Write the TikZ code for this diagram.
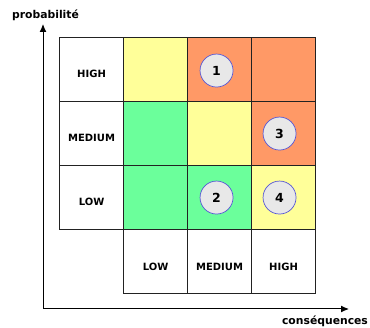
\documentclass[tikz,border=0pt]{standalone}
\usepackage{fontspec}
\setmainfont{DejaVu Sans}
\usetikzlibrary{arrows.meta}
\definecolor{cyel}{HTML}{FFFF99}
\definecolor{cgrn}{HTML}{6BFF9B}
\definecolor{corg}{HTML}{FF9966}
\definecolor{cring}{HTML}{5555D5}
\definecolor{cdisc}{HTML}{E8E8E8}
\definecolor{cline}{HTML}{222222}
\tikzset{
  cell/.style={draw=cline, line width=1.1pt, minimum size=64pt, inner sep=0pt, anchor=north west},
  lbl/.style={font=\bfseries\fontsize{10}{11}\selectfont, inner sep=0pt},
  risk/.style={circle, draw=cring, line width=0.7pt, fill=cdisc, minimum size=33pt, inner sep=0pt, font=\bfseries\fontsize{12.5}{13}\selectfont},
  axis/.style={line width=1pt, -{Latex[length=8pt,width=7pt]}},
  axlbl/.style={font=\bfseries\fontsize{10.8}{12}\selectfont, inner sep=0pt}
}
\begin{document}
\begin{tikzpicture}[x=1pt,y=-1pt]
\useasboundingbox (0,0) rectangle (370,328);
% coloured cells
\node[cell, fill=cyel] (c11) at (123,37) {};
\node[cell, fill=corg] (c12) at (187,37) {};
\node[cell, fill=corg] (c13) at (251,37) {};
\node[cell, fill=cgrn] (c21) at (123,101) {};
\node[cell, fill=cyel] (c22) at (187,101) {};
\node[cell, fill=corg] (c23) at (251,101) {};
\node[cell, fill=cgrn] (c31) at (123,165) {};
\node[cell, fill=cgrn] (c32) at (187,165) {};
\node[cell, fill=cyel] (c33) at (251,165) {};
% row headers
\node[cell, fill=white] (rh) at (59,37) {};
\node[cell, fill=white] (rm) at (59,101) {};
\node[cell, fill=white] (rl) at (59,165) {};
% column headers
\node[cell, fill=white] (cl) at (123,229) {};
\node[cell, fill=white] (cm) at (187,229) {};
\node[cell, fill=white] (ch) at (251,229) {};
% header texts
\node[lbl] (trh) at ([yshift=-4pt]rh.center) {HIGH};
\node[lbl] (trm) at ([yshift=-4pt]rm.center) {MEDIUM};
\node[lbl] (trl) at ([yshift=-4pt]rl.center) {LOW};
\node[lbl] (tcl) at ([yshift=-5pt]cl.center) {LOW};
\node[lbl] (tcm) at ([yshift=-5pt]cm.center) {MEDIUM};
\node[lbl] (tch) at ([yshift=-5pt]ch.center) {HIGH};
% risks
\node[risk] (r1) at ([xshift=-3pt,yshift=-1pt]c12.center) {1};
\node[risk] (r3) at ([xshift=-4pt]c23.center) {3};
\node[risk] (r2) at ([xshift=-3pt]c32.center) {2};
\node[risk] (r4) at ([xshift=-4pt]c33.center) {4};
% axes
\coordinate (o) at (43,309);
\coordinate (ytip) at (43,24);
\coordinate (xtip) at (349,309);
\draw[axis] (o) -- (ytip);
\draw[axis] (o) -- (xtip);
\node[axlbl, anchor=center] (yl) at (45.5,15) {probabilité};
\node[axlbl, anchor=center] (xl) at (325,321) {conséquences};
\end{tikzpicture}
\end{document}
